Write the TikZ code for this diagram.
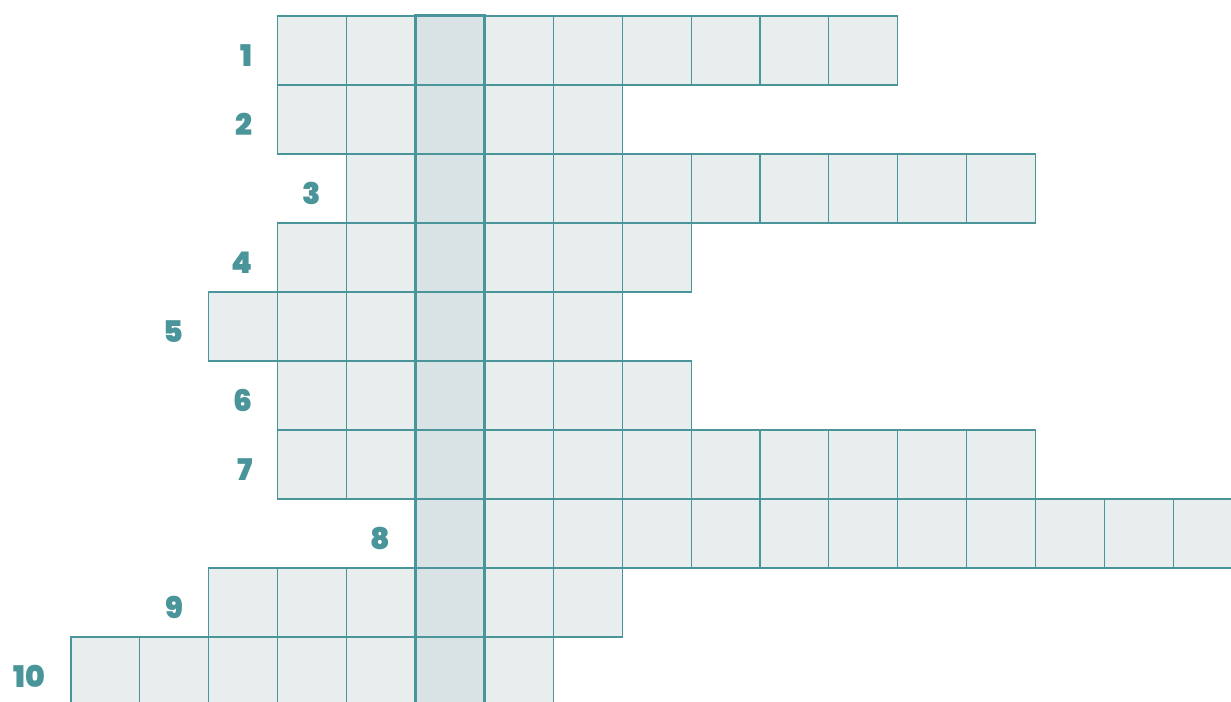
\documentclass[tikz,border=0pt]{standalone}
\usepackage{fontspec}
\setmainfont{Poppins}[BoldFont={Poppins Black}]
\usepackage{xcolor}
\usepackage{tikz}
\usetikzlibrary{positioning,calc}

\definecolor{gridteal}{HTML}{4A959A}
\definecolor{cellfill}{HTML}{E8EEEE}
\definecolor{keyfill}{HTML}{D9E2E5}

\begin{document}
\begin{tikzpicture}[
    x=0.02cm, y=-0.02cm,
    cell/.style={rectangle, draw=gridteal, fill=cellfill, line width=0.6pt,
        minimum width=1.378cm, minimum height=1.38cm, inner sep=0pt, outer sep=0pt},
    keycell/.style={cell, fill=keyfill},
    num/.style={anchor=east, text=gridteal, inner sep=0pt,
        font=\fontsize{17}{17}\selectfont\bfseries},
    keycol/.style={draw=gridteal, line width=1.7pt}
]
\useasboundingbox (0,0) rectangle (1231,702);

% Rows: number / first column / last column
\foreach \r/\first/\last in {1/3/11, 2/3/7, 3/4/13, 4/3/8, 5/2/7,
                             6/3/8, 7/3/13, 8/5/16, 9/2/7, 10/0/6} {
    \foreach \k in {\first,...,\last} {
        \ifnum\k=5
            \node[keycell] (c-\r-\k) at ({71+68.9*\k+34.45}, {16+69*(\r-1)+34.5}) {};
        \else
            \node[cell] (c-\r-\k) at ({71+68.9*\k+34.45}, {16+69*(\r-1)+34.5}) {};
        \fi
    }
    % Clue numbers
    \node[num, left=0.5cm of c-\r-\first.west, yshift=-0.1cm] (n-\r) {\r};
}

% Solution column
\draw[keycol] ($(c-1-5.north west)+(0,-1)$) rectangle ($(c-10-5.south east)+(0,1)$);

\end{tikzpicture}
\end{document}
